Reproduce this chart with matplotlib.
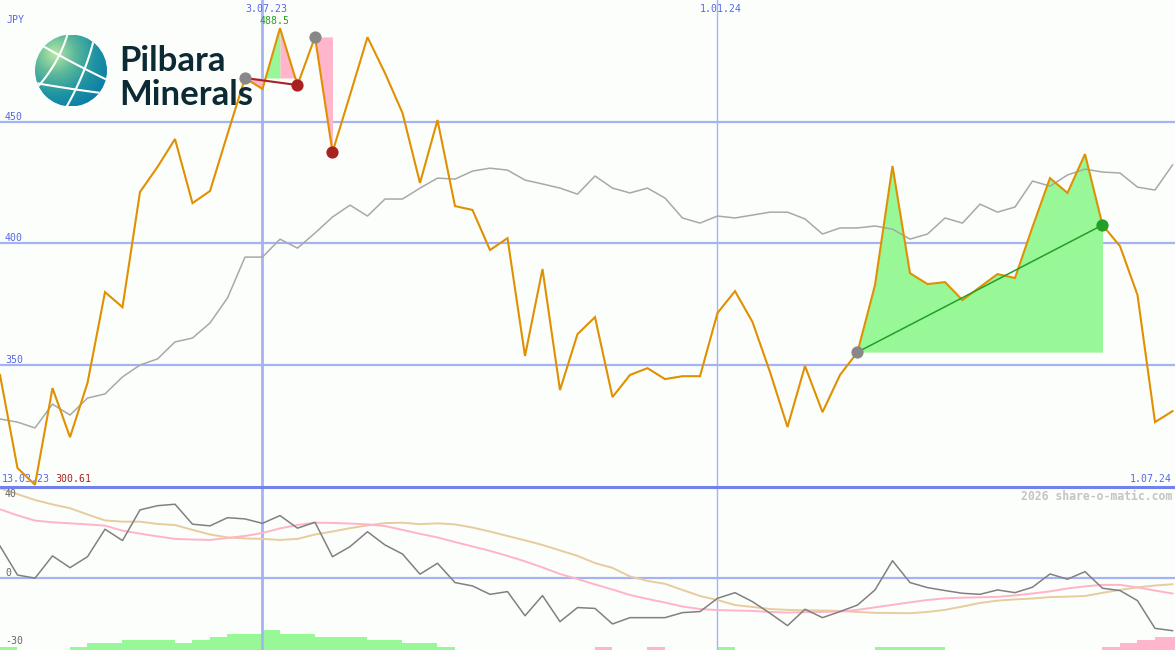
import numpy as np
import pandas as pd
import matplotlib
matplotlib.use('Agg')
import matplotlib.pyplot as plt
import matplotlib.dates as mdates
from matplotlib.patches import Circle
from matplotlib.lines import Line2D
from matplotlib.colors import LinearSegmentedColormap

# ---------------- data ----------------
start_date = '2023-03-20'
n_weeks = 68
dates = pd.date_range(start_date, periods=n_weeks, freq='7D')

price = [345.8, 307.5, 300.61, 340.4, 320.2, 342.5, 379.9, 373.7, 421.1, 431.4,
         442.9, 416.5, 421.5, 444.9, 468.0, 463.5, 488.5, 465.1, 484.9, 437.5,
         461.0, 484.8, 470.0, 453.6, 424.8, 450.7, 415.3, 413.7, 397.2, 402.1,
         353.6, 389.4, 339.6, 362.6, 369.6, 336.7, 345.8, 348.6, 344.1, 345.3,
         345.3, 371.3, 380.3, 367.6, 347.0, 324.4, 349.5, 330.5, 345.8, 355.2,
         382.8, 431.8, 387.7, 383.2, 384.0, 376.6, 382.0, 387.3, 385.7, 406.7,
         426.8, 420.7, 436.7, 407.5, 398.8, 378.7, 326.4, 330.9]

moving_avg = [327.7, 326.4, 324.0, 333.8, 329.3, 336.3, 338.0, 345.0, 349.9, 352.4,
              359.4, 361.0, 367.2, 377.5, 394.3, 394.3, 401.7, 398.0, 404.2, 410.8,
              415.7, 411.2, 418.2, 418.2, 422.7, 426.8, 426.4, 429.7, 430.9, 430.1,
              426.0, 424.4, 422.7, 420.2, 427.7, 422.7, 420.7, 422.7, 418.6, 410.4,
              408.3, 411.2, 410.4, 411.6, 412.8, 412.8, 410.0, 403.8, 406.3, 406.3,
              407.1, 405.8, 401.7, 403.8, 410.4, 408.3, 416.1, 412.8, 414.9, 425.6,
              423.5, 428.1, 430.5, 429.3, 428.9, 423.1, 421.9, 432.2]

oscillator = [15.2, 1.4, -0.1, 10.5, 4.9, 10.1, 23.2, 17.8, 32.4, 34.4,
              35.1, 25.6, 24.8, 28.7, 28.1, 26.0, 29.7, 23.7, 26.5, 10.1,
              14.9, 22.0, 15.7, 11.4, 1.8, 7.0, -2.2, -3.8, -7.8, -6.5,
              -18.0, -8.4, -20.8, -14.1, -14.5, -21.9, -18.9, -18.9, -18.9, -16.5,
              -16.0, -9.7, -7.0, -11.3, -16.8, -22.7, -14.9, -18.9, -16.0, -12.9,
              -5.7, 8.2, -2.2, -4.6, -6.0, -7.3, -7.8, -5.7, -7.0, -4.4,
              1.9, -0.6, 3.0, -4.9, -6.0, -10.8, -24.0, -25.1]

signal_pink = [32.7, 29.8, 27.3, 26.5, 26.0, 25.5, 24.9, 22.5, 21.1, 19.8,
               18.6, 18.3, 18.1, 19.0, 20.0, 21.4, 23.6, 25.2, 26.3, 26.2,
               25.9, 25.5, 24.7, 22.9, 21.0, 19.3, 17.1, 15.0, 12.9, 10.5,
               7.9, 5.0, 1.9, -0.5, -3.1, -5.5, -8.1, -10.0, -11.7, -13.6,
               -14.8, -15.3, -15.5, -15.7, -16.2, -16.5, -16.3, -16.2, -16.0, -15.2,
               -14.0, -12.8, -11.6, -10.5, -9.7, -9.4, -9.2, -9.0, -8.3, -7.4,
               -6.4, -5.0, -4.0, -3.3, -3.3, -4.5, -6.0, -7.4]

signal_tan = [42.7, 39.9, 37.1, 35.0, 33.2, 30.2, 27.4, 26.8, 26.8, 25.7,
              25.2, 22.9, 20.7, 19.3, 18.8, 18.6, 18.1, 18.6, 20.7, 22.1,
              23.7, 25.0, 26.1, 26.3, 25.6, 26.0, 25.5, 24.0, 22.1, 20.0,
              17.9, 15.7, 13.1, 10.5, 7.1, 4.8, 0.7, -1.4, -2.8, -5.7,
              -8.6, -10.5, -12.9, -13.8, -14.8, -15.2, -15.4, -15.5, -15.7, -16.2,
              -16.6, -16.7, -16.8, -16.2, -15.2, -13.6, -11.9, -10.8, -10.2, -9.8,
              -9.1, -8.9, -8.6, -7.1, -5.7, -4.5, -3.6, -3.0]

histogram = [1, 0, 0, 0, 1, 2, 2, 3, 3, 3,
             2, 3, 4, 5, 5, 6, 5, 5, 4, 4,
             4, 3, 3, 2, 2, 1, 0, 0, 0, 0,
             0, 0, 0, 0, -1, 0, 0, -1, 0, 0,
             0, 1, 0, 0, 0, 0, 0, 0, 0, 0,
             1, 1, 1, 1, 0, 0, 0, 0, 0, 0,
             0, 0, 0, -1, -2, -3, -4, -4]

price_ticks = [350, 400, 450]
osc_ticks = [40, 0, -30]
date_marks = ['2023-07-03', '2024-01-01']
date_labels = ['3.07.23', '1.01.24']
# patterns: (start index, end index, colours of successive segments, end marker colour)
patterns = [(14, 17, ['pink', 'green', 'pink'], 'red'),
            (18, 19, ['pink'], 'red'),
            (49, 63, ['green'] * 14, 'green')]

# ---------------- style ----------------
W, H = 1175, 650
BG = '#fcfefc'
GRID = '#a4b4f2'
BLUE_TXT = '#5566e6'
ORANGE = '#e09000'
PINK = '#ffb6cc'
GREEN = '#98f898'
MONO = 'DejaVu Sans Mono'
COL = {'pink': PINK, 'green': GREEN}
DOT = {'red': '#a82222', 'green': '#249e24'}

fig = plt.figure(figsize=(W / 100, H / 100), dpi=100)
fig.patch.set_facecolor(BG)

main_h = 487
ax = fig.add_axes([0, (H - main_h) / H, 1, main_h / H])
axb = fig.add_axes([0, 0, 1, (H - main_h) / H])
for a in (ax, axb):
    a.set_axis_off()
    a.patch.set_visible(False)

x = mdates.date2num(dates)
x0 = mdates.date2num(pd.Timestamp(start_date))
xlim = (x0, x0 + 470)
ax.set_xlim(xlim)
axb.set_xlim(xlim)
ax.set_ylim(299.7, 500.1)
axb.set_ylim(-34.3, 43.3)

# grid
for t in price_ticks:
    ax.axhline(t, color=GRID, lw=1.6, zorder=1)
    ax.text(5 / W, t, str(t), transform=ax.get_yaxis_transform(), fontsize=7.1,
            family=MONO, color=BLUE_TXT, va='bottom', ha='left')
axb.axhline(0, color=GRID, lw=1.6, zorder=1)
for i, d in enumerate(date_marks):
    dn = mdates.date2num(pd.Timestamp(d))
    lw = 2.0 if i == 0 else 1.0
    ax.axvline(dn, color=GRID, lw=lw, zorder=1)
    axb.axvline(dn, color=GRID, lw=lw, zorder=1)
    ax.text(dn + 1.4, 1 - 9 / main_h, date_labels[i], transform=ax.get_xaxis_transform(),
            fontsize=7.1, family=MONO, color=BLUE_TXT, ha='center', va='center')

fig.add_artist(Line2D([0, 1], [(H - main_h) / H] * 2, transform=fig.transFigure,
                      color='#7282ec', lw=2.2, zorder=5))

# pattern fills (consecutive segments of one colour are merged into one polygon)
for (i0, i1, cols, endc) in patterns:
    base = price[i0]
    k = 0
    while k < len(cols):
        m = k
        while m + 1 < len(cols) and cols[m + 1] == cols[k]:
            m += 1
        a, b = i0 + k, i0 + m + 1
        ax.fill_between(x[a:b + 1], price[a:b + 1], base, color=COL[cols[k]], lw=0, zorder=2)
        k = m + 1

# lines
ax.plot(x, moving_avg, color='#a8a8a8', lw=1.1, zorder=3)
ax.plot(x, price, color=ORANGE, lw=1.5, zorder=4, solid_joinstyle='miter')

# pattern trend lines and dots
i0, i1 = patterns[0][0], patterns[0][1]
ax.plot([x[i0], x[i1]], [price[i0], price[i1]], color='#a82222', lw=1.5, zorder=5)
i0, i1 = patterns[2][0], patterns[2][1]
ax.plot([x[i0], x[i1]], [price[i0], price[i1]], color='#249e24', lw=1.1, zorder=5)
for (i0, i1, cols, endc) in patterns:
    ax.plot(x[i0], price[i0], 'o', color='#888888', ms=8.8, mec='none', zorder=6)
    ax.plot(x[i1], price[i1], 'o', color=DOT[endc], ms=8.8, mec='none', zorder=6)

# texts main
ax.text(6 / W, 1 - 20 / main_h, 'JPY', transform=ax.transAxes, fontsize=7.1,
        family=MONO, color=BLUE_TXT, va='center')
imax = int(np.argmax(price))
ax.text(x[imax] - 2.2, 1 - 21 / main_h, f'{price[imax]:.1f}', transform=ax.get_xaxis_transform(),
        fontsize=7.1, family=MONO, color='#22a022', ha='center', va='center')
imin = int(np.argmin(price))
ax.text(2 / W, 1 - 479 / main_h, '13.03.23', transform=ax.transAxes, fontsize=7.1,
        family=MONO, color=BLUE_TXT, va='center', ha='left')
ax.text(55 / W, 1 - 479 / main_h, f'{price[imin]:.2f}', transform=ax.transAxes, fontsize=7.1,
        family=MONO, color='#a82222', va='center', ha='left')
ax.text(1172 / W, 1 - 479 / main_h, '1.07.24', transform=ax.transAxes, fontsize=7.1,
        family=MONO, color=BLUE_TXT, va='center', ha='right')

# bottom panel
axh = axb.twinx()
axh.set_axis_off()
axh.set_ylim(0, 49.4)
axh.set_zorder(axb.get_zorder() - 1)
hcol = [GREEN if v > 0 else PINK for v in histogram]
axh.bar(x, np.abs(histogram), width=7, align='edge', color=hcol, lw=0)
axb.plot(x, signal_tan, color='#e6cc9e', lw=1.4, zorder=3)
axb.plot(x, signal_pink, color='#ffb4c8', lw=1.4, zorder=3)
axb.plot(x, oscillator, color='#808080', lw=1.1, zorder=4)
for t in osc_ticks:
    axb.text(5 / W, t, str(t), transform=axb.get_yaxis_transform(), fontsize=7.1,
             family=MONO, color='#666666', ha='left', va='bottom' if t == 0 else 'center')
fig.text(1172 / W, 1 - 496 / H, '2026 share-o-matic.com', fontsize=8.3, family=MONO,
         fontweight='bold', color='#c4c4c4', ha='right', va='center')

# ---------------- logo ----------------
gax = fig.add_axes([35 / W, 1 - 106.5 / H, 72 / W, 72 / H])
gax.set_axis_off()
gax.set_xlim(-1, 1)
gax.set_ylim(-1, 1)
u = np.linspace(-1, 1, 220)
U, V = np.meshgrid(u, u[::-1])
dist = np.hypot(U + 0.45, V - 0.45)
cmap = LinearSegmentedColormap.from_list('globe', ['#b8e8a4', '#5cb89a', '#1f94a2', '#0a7aa8'])
img = gax.imshow(dist, extent=(-1, 1, -1, 1), cmap=cmap, vmin=0, vmax=1.7, origin='upper',
                 interpolation='bilinear')
clip = Circle((0, 0), 1.0, transform=gax.transData)
img.set_clip_path(clip)
arcs = [[(-0.78, 0.68), (0.05, 0.22), (0.98, -0.25)],
        [(-0.98, -0.35), (-0.05, -0.50), (0.80, -0.62)],
        [(-0.10, 1.0), (-0.42, 0.25), (-0.92, -0.45)],
        [(0.62, 0.80), (0.32, -0.10), (-0.12, -1.0)]]
t = np.linspace(0, 1, 60)
for p0, p1, p2 in arcs:
    p0, p1, p2 = map(np.array, (p0, p1, p2))
    c = 2 * p1 - 0.5 * (p0 + p2)
    pts = ((1 - t) ** 2)[:, None] * p0 + (2 * (1 - t) * t)[:, None] * c + (t ** 2)[:, None] * p2
    ln, = gax.plot(pts[:, 0], pts[:, 1], color='white', lw=1.5)
    ln.set_clip_path(Circle((0, 0), 1.0, transform=gax.transData))

fig.text(119 / W, 1 - 71 / H, 'Pilbara', family='Lato', fontweight='bold', fontsize=25,
         color='#0b2a33', va='baseline', ha='left')
fig.text(119 / W, 1 - 105 / H, 'Minerals', family='Lato', fontweight='bold', fontsize=25,
         color='#0b2a33', va='baseline', ha='left')

fig.savefig('out.png', dpi=100, facecolor=BG)
